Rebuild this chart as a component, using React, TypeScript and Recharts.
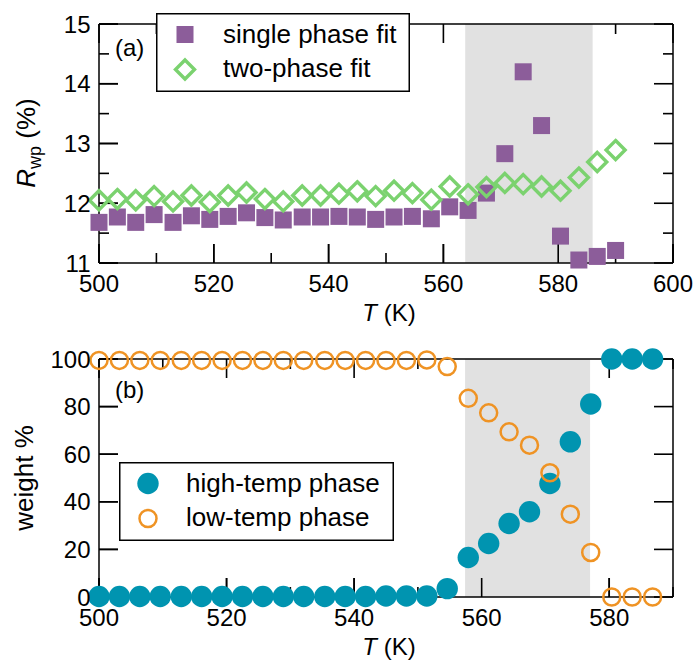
import React from "react";
import {
  ScatterChart,
  Scatter,
  XAxis,
  YAxis,
  ReferenceArea,
  Legend,
  Customized,
} from "recharts";

// temperatures (K) of the refinements
const TEMPS_A = [
  500.0, 503.2, 506.4, 509.6, 512.9, 516.1, 519.3, 522.5, 525.7, 528.9, 532.1, 535.4, 538.6,
  541.8, 545.0, 548.2, 551.4, 554.6, 557.9, 561.1, 564.3, 567.5, 570.7, 573.9, 577.1, 580.4,
  583.6, 586.8, 590.0,
];
const TEMPS_B = [
  500.0, 503.2, 506.4, 509.6, 512.9, 516.1, 519.3, 522.5, 525.7, 528.9, 532.1, 535.4, 538.6,
  541.8, 545.0, 548.2, 551.4, 554.6, 557.9, 561.1, 564.3, 567.5, 570.7, 573.9, 577.1, 580.4,
  583.6, 586.8,
];

// panel (a): Rwp (%)
const RWP_SINGLE = [
  11.68, 11.77, 11.68, 11.81, 11.68, 11.79, 11.73, 11.78, 11.84, 11.76, 11.72, 11.77, 11.77,
  11.78, 11.77, 11.73, 11.77, 11.78, 11.74, 11.94, 11.88, 12.17, 12.83, 14.2, 13.3, 11.45,
  11.05, 11.11, 11.21,
];
const RWP_TWO = [
  12.05, 12.07, 12.05, 12.12, 12.03, 12.13, 12.02, 12.13, 12.18, 12.07, 12.03, 12.13, 12.13,
  12.16, 12.2, 12.12, 12.21, 12.17, 12.06, 12.28, 12.15, 12.27, 12.34, 12.32, 12.28, 12.21,
  12.43, 12.69, 12.89,
];

// panel (b): weight %
const W_HIGH = [
  0.2, 0.2, 0.2, 0.2, 0.2, 0.2, 0.2, 0.2, 0.2, 0.2, 0.2, 0.2, 0.2, 0.2, 0.4, 0.4, 0.4, 3.5,
  16.6, 22.5, 30.9, 35.8, 47.7, 65.2, 81.1, 100, 100, 100,
];
const W_LOW = [
  99.4, 99.4, 99.4, 99.4, 99.4, 99.4, 99.4, 99.4, 99.4, 99.4, 99.4, 99.4, 99.4, 99.4, 99.4,
  99.4, 99.6, 96.8, 83.5, 77.4, 69.4, 63.8, 52.2, 34.8, 18.7, 0, 0, 0,
];

// shaded transition windows
const BAND_A = [563.8, 586.0];
const BAND_B = [557.4, 577.0];

// ticks
const XMAJ_A = [500, 520, 540, 560, 580, 600];
const XMIN_A = [510, 530, 550, 570, 590];
const YMAJ_A = [11, 12, 13, 14, 15];
const YMIN_A = [11.5, 12.5, 13.5, 14.5];
const XMAJ_B = [500, 520, 540, 560, 580];
const XMIN_B = [510, 530, 550, 570, 590];
const YMAJ_B = [0, 20, 40, 60, 80, 100];
const YMIN_B: number[] = [];

const FONT = "Liberation Sans, Arial, Helvetica, sans-serif";
const PURPLE = "#8c5d9a";
const GREEN = "#7bd26f";
const TEAL = "#0094b0";
const ORANGE = "#ef9324";
const SHADE = "#e1e1e1";

const MAJOR_LEN = 19;
const MINOR_LEN = 10;
const SQ = 17;

// plot box shared by both panels (chart-local pixels)
const PLOT_LEFT = 99;
const PLOT_RIGHT = 673;

const singleData = TEMPS_A.map((t, i) => ({ t, v: RWP_SINGLE[i] }));
const twoData = TEMPS_A.map((t, i) => ({ t, v: RWP_TWO[i] }));
const highData = TEMPS_B.map((t, i) => ({ t, v: W_HIGH[i] }));
const lowData = TEMPS_B.map((t, i) => ({ t, v: W_LOW[i] }));

// labels for the major ticks (axes use a negative tick size, so shift back out)
function tickLabel(side: string) {
  return (props: any) => {
    const x = Number(props.x);
    const y = Number(props.y);
    const v = props.payload.value;
    return side === "bottom" ? (
      <text x={x} y={y + MAJOR_LEN + 28.5} textAnchor="middle" fontSize={24} fontFamily={FONT} fill="#000">
        {v}
      </text>
    ) : (
      <text x={x - MAJOR_LEN - 8.5} y={y + 8.6} textAnchor="end" fontSize={24} fontFamily={FONT} fill="#000">
        {v}
      </text>
    );
  };
}

// inward frame ticks on all four sides
function FrameTicks(p: {
  top: number;
  bottom: number;
  xd: number[];
  yd: number[];
  xMaj: number[];
  xMin: number[];
  yMaj: number[];
  yMin: number[];
}) {
  const px = (v: number) => PLOT_LEFT + ((v - p.xd[0]) / (p.xd[1] - p.xd[0])) * (PLOT_RIGHT - PLOT_LEFT);
  const py = (v: number) => p.bottom - ((v - p.yd[0]) / (p.yd[1] - p.yd[0])) * (p.bottom - p.top);
  const xs = [...p.xMaj.map((v) => [v, MAJOR_LEN]), ...p.xMin.map((v) => [v, MINOR_LEN])];
  const ys = [...p.yMaj.map((v) => [v, MAJOR_LEN]), ...p.yMin.map((v) => [v, MINOR_LEN])];
  return (
    <g>
      {xs.map(([v, n]) => (
        <g key={`x${v}`}>
          <rect x={px(v) - 0.8} y={p.bottom - n} width={1.6} height={n} fill="#000" />
          <rect x={px(v) - 0.8} y={p.top} width={1.6} height={n} fill="#000" />
        </g>
      ))}
      {ys.map(([v, n]) => (
        <g key={`y${v}`}>
          <rect x={PLOT_LEFT} y={py(v) - 0.8} width={n} height={1.6} fill="#000" />
          <rect x={PLOT_RIGHT - n} y={py(v) - 0.8} width={n} height={1.6} fill="#000" />
        </g>
      ))}
    </g>
  );
}

const Square = (p: any) => (
  <rect x={p.cx - SQ / 2} y={p.cy - SQ / 2} width={SQ} height={SQ} fill={PURPLE} />
);
const Diamond = (p: any) => (
  <path
    d={`M${p.cx},${p.cy - 9.5}L${p.cx + 9.5},${p.cy}L${p.cx},${p.cy + 9.5}L${p.cx - 9.5},${p.cy}Z`}
    fill="none"
    stroke={GREEN}
    strokeWidth={3.4}
  />
);
const Dot = (p: any) => <circle cx={p.cx} cy={p.cy} r={10.7} fill={TEAL} />;
const Ring = (p: any) => (
  <circle cx={p.cx} cy={p.cy} r={8.5} fill="none" stroke={ORANGE} strokeWidth={2.5} />
);
const Nothing = () => <g />;

function LegendBox({ w, h, items }: { w: number; h: number; items: { shape: any; label: string }[] }) {
  return (
    <svg width={w} height={h} style={{ display: "block" }}>
      <rect x={0.75} y={0.75} width={w - 1.5} height={h - 1.5} fill="#fff" stroke="#000" strokeWidth={1.5} />
      {items.map((it, i) => (
        <g key={it.label}>
          {it.shape({ cx: 29, cy: 21.5 + i * 35 })}
          <text x={67} y={29.5 + i * 34.5} fontSize={26} fontFamily={FONT} fill="#000">
            {it.label}
          </text>
        </g>
      ))}
    </svg>
  );
}

const axisLine = { stroke: "#000", strokeWidth: 1.5 };
const tickLine = { stroke: "#000", strokeWidth: 1.6 };

function Panel(props: {
  id: string;
  xDomain: number[];
  yDomain: number[];
  xMaj: number[];
  xMin: number[];
  yMaj: number[];
  yMin: number[];
  band: number[];
  top: number;
  bottomH: number;
  series: { name: string; data: any[]; shape: any }[];
  legendPos: { left: number; top: number; width: number; height: number };
  extras: () => React.ReactElement;
}) {
  const { xDomain, yDomain, xMaj, xMin, yMaj, yMin, band, top, bottomH, series, legendPos } = props;
  const plotTop = top + 1;
  const plotBottom = 330 - bottomH;
  return (
    <ScatterChart id={props.id} width={698} height={330} margin={{ top, right: 24, bottom: 0, left: 0 }}>
      <ReferenceArea
        xAxisId="b"
        yAxisId="l"
        x1={band[0]}
        x2={band[1]}
        fill={SHADE}
        fillOpacity={1}
        stroke="none"
      />
      <XAxis
        xAxisId="b"
        dataKey="t"
        type="number"
        domain={xDomain}
        ticks={xMaj}
        interval={0}
        height={bottomH}
        tickSize={-MAJOR_LEN}
        tickMargin={0}
        tickLine={tickLine}
        axisLine={axisLine}
        tick={tickLabel("bottom")}
      />
      <XAxis
        xAxisId="t"
        dataKey="t"
        orientation="top"
        type="number"
        domain={xDomain}
        height={1}
        tick={false}
        tickLine={false}
        axisLine={axisLine}
      />
      <YAxis
        yAxisId="l"
        dataKey="v"
        type="number"
        domain={yDomain}
        ticks={yMaj}
        interval={0}
        width={99}
        tickSize={-MAJOR_LEN}
        tickMargin={0}
        tickLine={tickLine}
        axisLine={axisLine}
        tick={tickLabel("left")}
      />
      <YAxis
        yAxisId="r"
        dataKey="v"
        orientation="right"
        type="number"
        domain={yDomain}
        width={1}
        tick={false}
        tickLine={false}
        axisLine={axisLine}
      />
      {/* invisible copy of the data so the top/right frame axes get a domain */}
      <Scatter
        data={series[0].data}
        xAxisId="t"
        yAxisId="r"
        shape={Nothing}
        legendType="none"
        isAnimationActive={false}
      />
      <Customized
        component={() => (
          <FrameTicks
            top={plotTop}
            bottom={plotBottom}
            xd={xDomain}
            yd={yDomain}
            xMaj={xMaj}
            xMin={xMin}
            yMaj={yMaj}
            yMin={yMin}
          />
        )}
      />
      {series.map((s) => (
        <Scatter
          key={s.name}
          name={s.name}
          data={s.data}
          xAxisId="b"
          yAxisId="l"
          shape={s.shape}
          isAnimationActive={false}
        />
      ))}
      <Legend
        layout="vertical"
        align="center"
        verticalAlign="middle"
        wrapperStyle={legendPos}
        content={() => (
          <LegendBox
            w={legendPos.width}
            h={legendPos.height}
            items={series.map((s) => ({ shape: s.shape, label: s.name }))}
          />
        )}
      />
      <Customized component={props.extras} />
    </ScatterChart>
  );
}

const extrasA = () => (
  <g fontFamily={FONT} fill="#000">
    <text x={115} y={56} fontSize={24}>(a)</text>
    <text x={389} y={321} fontSize={24} textAnchor="middle">
      <tspan fontStyle="italic">T</tspan> (K)
    </text>
    <text transform="translate(35,143) rotate(-90)" fontSize={26} textAnchor="middle">
      <tspan fontStyle="italic">R</tspan>
      <tspan fontSize={18} dy={6}>wp</tspan>
      <tspan dy={-6}> (%)</tspan>
    </text>
  </g>
);

const extrasB = () => (
  <g fontFamily={FONT} fill="#000">
    <text x={115} y={68} fontSize={24}>(b)</text>
    <text x={389} y={325} fontSize={24} textAnchor="middle">
      <tspan fontStyle="italic">T</tspan> (K)
    </text>
    <text transform="translate(33,148) rotate(-90)" fontSize={26} textAnchor="middle">
      weight %
    </text>
  </g>
);

export default function App() {
  return (
    <div style={{ position: "absolute", left: 0, top: 0, width: 698, height: 660, background: "#fff" }}>
      <Panel
        id="panel-a"
        xDomain={[500, 600]}
        yDomain={[11, 15]}
        xMaj={XMAJ_A}
        xMin={XMIN_A}
        yMaj={YMAJ_A}
        yMin={YMIN_A}
        band={BAND_A}
        top={23}
        bottomH={67}
        series={[
          { name: "single phase fit", data: singleData, shape: Square },
          { name: "two-phase fit", data: twoData, shape: Diamond },
        ]}
        legendPos={{ left: 156, top: 13, width: 254, height: 79 }}
        extras={extrasA}
      />
      <Panel
        id="panel-b"
        xDomain={[500, 590]}
        yDomain={[0, 100]}
        xMaj={XMAJ_B}
        xMin={XMIN_B}
        yMaj={YMAJ_B}
        yMin={YMIN_B}
        band={BAND_B}
        top={28}
        bottomH={63}
        series={[
          { name: "high-temp phase", data: highData, shape: Dot },
          { name: "low-temp phase", data: lowData, shape: Ring },
        ]}
        legendPos={{ left: 119, top: 132, width: 275, height: 79 }}
        extras={extrasB}
      />
    </div>
  );
}
